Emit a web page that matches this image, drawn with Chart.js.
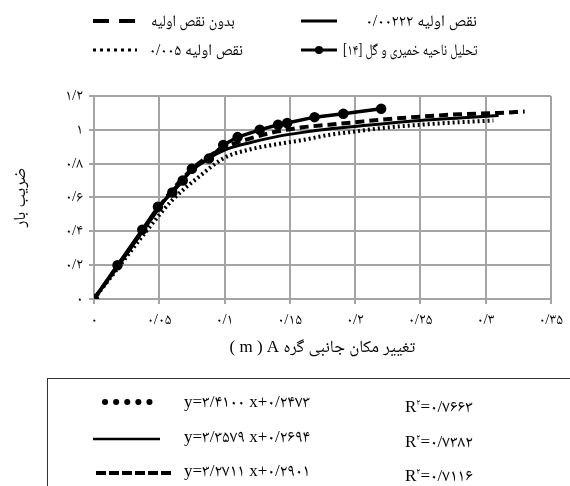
<!DOCTYPE html>
<html lang="fa">
<head>
<meta charset="utf-8">
<script src="https://cdn.jsdelivr.net/npm/chart.js@4.4.1/dist/chart.umd.min.js"></script>
<style>
  body { margin: 0; background: #fff; }
  #wrap { position: relative; width: 570px; height: 486px; overflow: hidden;
          font-family: "Liberation Serif", "Noto Naskh Arabic", "Noto Sans Arabic", "DejaVu Sans", serif; color: #000; }
  #chart { position: absolute; left: 0; top: 0; }
  .leg { position: absolute; font-size: 16px; direction: rtl; white-space: nowrap; line-height: 20px; }
  .sample { position: absolute; }
  #fitbox { position: absolute; left: 47px; top: 378px; width: 600px; height: 200px;
            border: 1.5px solid #333; box-sizing: border-box; }
  .eq { position: absolute; left: 184px; font-size: 17px; direction: ltr; white-space: nowrap; line-height: 20px; }
  .r2 { position: absolute; left: 405px; font-size: 17px; direction: ltr; white-space: nowrap; line-height: 20px; }
  .r2 sup { font-size: 9px; }
</style>
</head>
<body>
<div id="wrap">
  <canvas id="chart" width="570" height="486"></canvas>

  <!-- top legend -->
  <svg class="sample" style="left:299px;top:15px" width="40" height="12"><line x1="2" y1="6" x2="38" y2="6" stroke="#000" stroke-width="3"/></svg>
  <div class="leg" data-max="128" style="right:93px;top:11px">نقص اولیه ۰/۰۰۲۲۲</div>
  <svg class="sample" style="left:91px;top:15px" width="48" height="12"><line x1="2" y1="6" x2="46" y2="6" stroke="#000" stroke-width="4" stroke-dasharray="16 10"/></svg>
  <div class="leg" data-max="84" style="left:151px;top:11px">بدون نقص اولیه</div>

  <svg class="sample" style="left:299px;top:44px" width="40" height="12"><line x1="2" y1="6" x2="38" y2="6" stroke="#000" stroke-width="3"/><circle cx="20" cy="6" r="4"/></svg>
  <div class="leg" data-max="134" style="right:93px;top:40px">تحلیل ناحیه خمیری و گل [۱۴]</div>
  <svg class="sample" style="left:91px;top:44px" width="48" height="12"><line x1="2" y1="6" x2="46" y2="6" stroke="#000" stroke-width="3" stroke-dasharray="3 4"/></svg>
  <div class="leg" data-max="94" style="left:149px;top:40px">نقص اولیه ۰/۰۰۵</div>

  <!-- fit box -->
  <div id="fitbox"></div>
  <svg class="sample" style="left:100px;top:395px" width="60" height="14"><line x1="5" y1="7" x2="56" y2="7" stroke="#000" stroke-width="6" stroke-linecap="round" stroke-dasharray="0.1 11"/></svg>
  <svg class="sample" style="left:92px;top:432px" width="70" height="14"><line x1="1" y1="7" x2="68" y2="7" stroke="#000" stroke-width="2.5"/></svg>
  <svg class="sample" style="left:95px;top:466px" width="80" height="14"><line x1="1" y1="7" x2="76" y2="7" stroke="#000" stroke-width="4" stroke-dasharray="10 3"/></svg>
  <div id="eqs"></div>
</div>

<script>
// x = lateral displacement of node A (m), y = load factor
var plasticX = [0, 0.018, 0.037, 0.049, 0.060, 0.068, 0.075, 0.088, 0.099, 0.110, 0.127, 0.141, 0.148, 0.169, 0.191, 0.220];
var plasticY = [0, 0.20, 0.41, 0.545, 0.63, 0.70, 0.77, 0.83, 0.91, 0.957, 1.0, 1.03, 1.04, 1.075, 1.095, 1.125];

var imp222X = [0, 0.02, 0.04, 0.06, 0.08, 0.10, 0.12, 0.14, 0.16, 0.18, 0.20, 0.22, 0.25, 0.28, 0.31];
var imp222Y = [0, 0.21, 0.43, 0.64, 0.79, 0.88, 0.925, 0.96, 0.985, 1.005, 1.02, 1.035, 1.055, 1.07, 1.085];

var perfectX = [0, 0.02, 0.04, 0.06, 0.08, 0.10, 0.12, 0.14, 0.16, 0.18, 0.20, 0.22, 0.25, 0.28, 0.31, 0.33];
var perfectY = [0, 0.215, 0.435, 0.645, 0.80, 0.895, 0.95, 0.99, 1.015, 1.03, 1.045, 1.06, 1.078, 1.092, 1.10, 1.108];

var imp005X = [0, 0.02, 0.04, 0.06, 0.08, 0.10, 0.12, 0.14, 0.16, 0.18, 0.20, 0.22, 0.25, 0.28, 0.306];
var imp005Y = [0, 0.20, 0.40, 0.585, 0.72, 0.835, 0.885, 0.915, 0.94, 0.97, 0.99, 1.01, 1.03, 1.045, 1.055];

var xTickLabels = ['۰', '۰/۰۵', '۰/۱', '۰/۱۵', '۰/۲', '۰/۲۵', '۰/۳', '۰/۳۵'];
var yTickLabels = ['۰', '۰/۲', '۰/۴', '۰/۶', '۰/۸', '۱', '۱/۲'];

var fitEquations = ['y=۳/۴۱۰۰ x+۰/۲۴۷۳', 'y=۳/۳۵۷۹ x+۰/۲۶۹۴', 'y=۳/۲۷۱۱ x+۰/۲۹۰۱'];
var fitR2 = ['۰/۷۶۶۳', '۰/۷۳۸۲', '۰/۷۱۱۶'];

var rowTops = [392, 427, 461];
var eqHtml = '';
for (var i = 0; i < fitEquations.length; i++) {
  eqHtml += '<div class="eq" style="top:' + rowTops[i] + 'px">' + fitEquations[i] + '</div>';
  eqHtml += '<div class="r2" style="top:' + rowTops[i] + 'px">R<sup>۲</sup>=' + fitR2[i] + '</div>';
}
document.getElementById('eqs').innerHTML = eqHtml;

// squeeze legend texts that run wider than the reference
document.querySelectorAll('.leg').forEach(function (el) {
  var max = +el.getAttribute('data-max');
  var w = el.offsetWidth;
  if (w > max) {
    el.style.transformOrigin = el.style.left ? 'left center' : 'right center';
    el.style.transform = 'scaleX(' + (max / w) + ')';
  }
});

function pts(xs, ys) {
  return xs.map(function (x, i) { return { x: x, y: ys[i] }; });
}

var gridColor = '#a4a4a4';
var fontStack = "'Liberation Serif', 'Noto Naskh Arabic', 'Noto Sans Arabic', 'DejaVu Sans', serif";
var tickFont = { family: fontStack, size: 15 };

new Chart("chart", {
  type: "scatter",
  data: {
    datasets: [{
      label: 'تحلیل ناحیه خمیری و گل [۱۴]',
      data: pts(plasticX, plasticY),
      showLine: true,
      borderColor: '#000',
      backgroundColor: '#000',
      borderWidth: 3.5,
      pointRadius: 3.5,
      tension: 0
    }, {
      label: 'نقص اولیه ۰/۰۰۲۲۲',
      data: pts(imp222X, imp222Y),
      showLine: true,
      borderColor: '#000',
      borderWidth: 3,
      pointRadius: 0,
      cubicInterpolationMode: 'monotone'
    }, {
      label: 'بدون نقص اولیه',
      data: pts(perfectX, perfectY),
      showLine: true,
      borderColor: '#000',
      borderWidth: 4,
      borderDash: [9, 5],
      pointRadius: 0,
      cubicInterpolationMode: 'monotone'
    }, {
      label: 'نقص اولیه ۰/۰۰۵',
      data: pts(imp005X, imp005Y),
      showLine: true,
      borderColor: '#000',
      borderWidth: 4,
      borderDash: [2, 3],
      pointRadius: 0,
      cubicInterpolationMode: 'monotone'
    }]
  },
  options: {
    responsive: false,
    animation: false,
    layout: { padding: { top: 96, right: 13, bottom: 125, left: 0 } },
    plugins: {
      legend: { display: false },
      tooltip: { enabled: false }
    },
    scales: {
      x: {
        min: 0, max: 0.35,
        afterFit: function (scale) { scale.height = 62; },
        afterBuildTicks: function (scale) {
          scale.ticks = xTickLabels.map(function (t, i) { return { value: i * 0.05 }; });
        },
        ticks: {
          color: '#000', font: tickFont, padding: 7, maxRotation: 0,
          callback: function (v, i) { return xTickLabels[i]; }
        },
        grid: { color: gridColor, lineWidth: 2, tickLength: 5 },
        border: { color: gridColor, width: 2 },
        title: {
          display: true, color: '#000',
          text: '( m ) A تغییر مکان جانبی گره',
          font: { family: fontStack, size: 17 },
          padding: { top: 0, bottom: 3 }
        }
      },
      y: {
        min: 0, max: 1.2,
        afterFit: function (scale) { scale.width = 94; },
        afterBuildTicks: function (scale) {
          scale.ticks = yTickLabels.map(function (t, i) { return { value: i * 0.2 }; });
        },
        ticks: {
          color: '#000', font: tickFont, padding: 6,
          callback: function (v, i) { return yTickLabels[i]; }
        },
        grid: { color: gridColor, lineWidth: 2, tickLength: 5 },
        border: { color: gridColor, width: 2 },
        title: {
          display: true, color: '#000',
          text: 'ضریب بار',
          font: { family: fontStack, size: 17 },
          padding: { top: 10, bottom: 0 }
        }
      }
    }
  }
});
</script>
</body>
</html>
